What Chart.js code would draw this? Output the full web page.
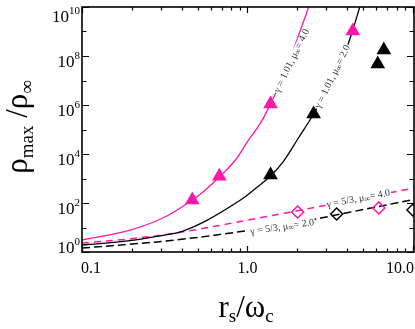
<!DOCTYPE html>
<html>
<head>
<meta charset="utf-8">
<script src="https://cdn.jsdelivr.net/npm/chart.js@4.4.1/dist/chart.umd.min.js"></script>
<style>
  html, body { margin: 0; padding: 0; background: #fff; }
  #wrap { width: 415px; height: 329px; }
</style>
</head>
<body>
<div id="wrap"><canvas id="c" width="415" height="329"></canvas></div>
<script>
  "use strict";
  // valeurs (log-log)
  const magFitX = [0.1, 0.195, 0.31, 0.464, 0.556, 0.676, 0.846, 1.0, 1.2, 1.378, 1.54, 1.82, 2.09, 2.34, 2.5];
  const magFitY = [3.1, 7.9, 25, 132, 340, 1150, 5700, 3.2e4, 1.85e5, 1.1e6, 5.4e6, 8.3e7, 1.15e9, 1e10, 5e10];
  const blkFitX = [0.1, 0.195, 0.319, 0.404, 0.573, 0.907, 1.09, 1.378, 1.65, 2.01, 2.51, 3.18, 3.93, 4.33, 4.77, 5.1];
  const blkFitY = [1.93, 2.9, 5.0, 7.0, 20, 132, 340, 1260, 5000, 4.0e4, 4.3e5, 7.9e6, 1.75e8, 1.15e9, 1e10, 5e10];
  const magDashX = [0.1, 0.2, 0.4, 1.0, 2.0, 4.0, 10.2];
  const magDashY = [2.3, 3.5, 6.5, 20, 48, 120, 410];
  const blkDashX = [0.1, 0.2, 0.4, 1.0, 2.0, 4.0, 10.4];
  const blkDashY = [1.45, 2.1, 3.3, 7.5, 16, 40, 145];

  const magTriX = [0.464, 0.676, 1.378, 4.33];
  const magTriY = [132, 1250, 1.1e6, 1.05e9];
  const blkTriX = [1.378, 2.51, 6.13, 6.67];
  const blkTriY = [1390, 4.3e5, 4.7e7, 1.75e8];
  const magDiaX = [2.01, 6.22];
  const magDiaY = [43, 63];
  const blkDiaX = [3.46, 10.0];
  const blkDiaY = [35.6, 52];

  const xMajor = [0.1, 1, 10];
  const xMinor = [0.2, 0.3, 0.4, 0.5, 0.6, 0.7, 0.8, 0.9, 2, 3, 4, 5, 6, 7, 8, 9];
  const xLabels = ["0.1", "1.0", "10.0"];
  const yMajor = [1, 1e2, 1e4, 1e6, 1e8, 1e10];
  const yMinor = [10, 1e3, 1e5, 1e7, 1e9];

  // annotations: [texte, valeur, x, y, angle]
  const notes = [
    ["\u03b3 = 1.01, \u03bc", "= 4.0", 1.50, 3.4e6, -64],
    ["\u03b3 = 1.01, \u03bc", "= 2.0", 2.65, 7.6e5, -64],
    ["\u03b3 = 5/3, \u03bc", "= 4.0", 3.01, 83, -11],
    ["\u03b3 = 5/3, \u03bc", "= 2.0", 1.04, 6.6, -8.5]
  ];

  const MAG = "#ff17a8";
  const SERIF = '"Liberation Serif", "DejaVu Serif", serif';
  const pts = (xs, ys) => xs.map((x, i) => ({ x: x, y: ys[i] }));

  // morceaux de texte: [texte, taille, decalage vertical]
  function richWidth(ctx, parts) {
    let w = 0;
    for (const p of parts) { ctx.font = p[1] + "px " + SERIF; w += ctx.measureText(p[0]).width; }
    return w;
  }
  function drawRich(ctx, parts, x, y) {
    let cx = x;
    for (const p of parts) {
      ctx.font = p[1] + "px " + SERIF;
      ctx.fillText(p[0], cx, y + p[2]);
      cx += ctx.measureText(p[0]).width;
    }
  }

  function drawNotes(chart) {
    const ctx = chart.ctx, xs = chart.scales.x, ys = chart.scales.y, a = chart.chartArea;
    ctx.save();
    ctx.beginPath();
    ctx.rect(a.left, a.top, a.right - a.left, a.bottom - a.top);
    ctx.clip();
    for (const n of notes) {
      const parts = [[n[0], 10, 0], ["\u221e", 8, 2], [n[1], 10, 0]];
      const px = xs.getPixelForValue(n[2]), py = ys.getPixelForValue(n[3]);
      ctx.save();
      ctx.translate(px, py);
      ctx.rotate(n[4] * Math.PI / 180);
      const w = richWidth(ctx, parts);
      ctx.fillStyle = "#fff";
      ctx.fillRect(-1, -4, w + 2, 8);
      ctx.fillStyle = "#333";
      ctx.textBaseline = "middle";
      ctx.textAlign = "left";
      drawRich(ctx, parts, 0, 0);
      ctx.restore();
    }
    ctx.restore();
  }

  const axesPlugin = {
    id: "axes",
    afterDatasetDraw(chart, args) {
      if (args.index === 4) drawNotes(chart); // apres les courbes, avant les symboles
    },
    afterDraw(chart) {
      const ctx = chart.ctx, a = chart.chartArea, xs = chart.scales.x, ys = chart.scales.y;
      ctx.save();
      ctx.strokeStyle = "#000";
      ctx.lineWidth = 1.6;
      ctx.strokeRect(a.left, a.top, a.right - a.left, a.bottom - a.top);
      ctx.lineWidth = 1.2;
      ctx.beginPath();
      const tx = (v, len) => {
        const p = Math.round(xs.getPixelForValue(v)) + 0.5;
        ctx.moveTo(p, a.bottom); ctx.lineTo(p, a.bottom - len);
        ctx.moveTo(p, a.top); ctx.lineTo(p, a.top + len);
      };
      const ty = (v, len) => {
        const p = Math.round(ys.getPixelForValue(v)) + 0.5;
        ctx.moveTo(a.left, p); ctx.lineTo(a.left + len, p);
        ctx.moveTo(a.right, p); ctx.lineTo(a.right - len, p);
      };
      xMajor.forEach((v) => tx(v, 6));
      xMinor.forEach((v) => tx(v, 3.5));
      yMajor.forEach((v) => ty(v, 7));
      yMinor.forEach((v) => ty(v, 4.5));
      ctx.stroke();

      // etiquettes
      ctx.fillStyle = "#000";
      ctx.textBaseline = "alphabetic";
      ctx.textAlign = "left";
      xMajor.forEach((v, i) => {
        ctx.font = "16px " + SERIF;
        const w = ctx.measureText(xLabels[i]).width;
        let left = xs.getPixelForValue(v) - w / 2;
        left = Math.max(a.left - 1, Math.min(left, 415 - w - 1));
        ctx.fillText(xLabels[i], left, 273);
      });
      yMajor.forEach((v) => {
        const e = String(Math.round(Math.log10(v)));
        const parts = [["10", 17, 0], [e, 11, -8]];
        const w = richWidth(ctx, parts);
        const base = Math.min(Math.max(ys.getPixelForValue(v) + 11, 22), 253);
        drawRich(ctx, parts, a.left - 2 - w, base);
      });

      // titre x
      const xt = [["r", 31, 0], ["s", 19, 5], ["/", 31, 0], ["\u03c9", 31, 0], ["c", 19, 5]];
      drawRich(ctx, xt, 246 - richWidth(ctx, xt) / 2, 317);

      // titre y
      const yt = [["\u03c1", 31, 0], ["max", 19, 6], [" /", 31, 0], ["\u03c1", 31, 0], ["\u221e", 19, 6]];
      ctx.save();
      ctx.translate(27, 127);
      ctx.rotate(-Math.PI / 2);
      drawRich(ctx, yt, -richWidth(ctx, yt) / 2, 0);
      ctx.restore();
      ctx.restore();
    }
  };

  const marker = (label, xs, ys, style, r, fill, stroke) => ({
    label: label, data: pts(xs, ys), showLine: false, clip: 0,
    pointStyle: style, pointRadius: r, pointHoverRadius: r,
    pointBackgroundColor: fill, pointBorderColor: stroke, pointBorderWidth: 1.5
  });
  const curve = (label, xs, ys, color, dash) => ({
    label: label, data: pts(xs, ys), clip: 0, borderColor: color, borderWidth: dash.length ? 1.5 : 1.3,
    borderDash: dash, pointRadius: 0, tension: 0.4, fill: false
  });

  new Chart(document.getElementById("c"), {
    type: "line",
    data: {
      datasets: [
        marker("mag tri", magTriX, magTriY, "triangle", 7, MAG, MAG),
        marker("blk tri", blkTriX, blkTriY, "triangle", 7, "#000", "#000"),
        marker("mag dia", magDiaX, magDiaY, "rectRot", 6, "rgba(255,255,255,0)", MAG),
        marker("blk dia", blkDiaX, blkDiaY, "rectRot", 6, "rgba(255,255,255,0)", "#000"),
        curve("mag fit", magFitX, magFitY, MAG, []),
        curve("blk fit", blkFitX, blkFitY, "#000", []),
        curve("mag dash", magDashX, magDashY, MAG, [7, 5]),
        curve("blk dash", blkDashX, blkDashY, "#000", [8, 4])
      ]
    },
    options: {
      responsive: false,
      animation: false,
      events: [],
      layout: { autoPadding: false, padding: { left: 82, right: 1, top: 7, bottom: 77 } },
      plugins: { legend: { display: false }, tooltip: { enabled: false } },
      scales: {
        x: { type: "logarithmic", min: 0.1, max: 10.15, display: false },
        y: { type: "logarithmic", min: 1, max: 1e10, display: false }
      }
    },
    plugins: [axesPlugin]
  });
</script>
</body>
</html>
